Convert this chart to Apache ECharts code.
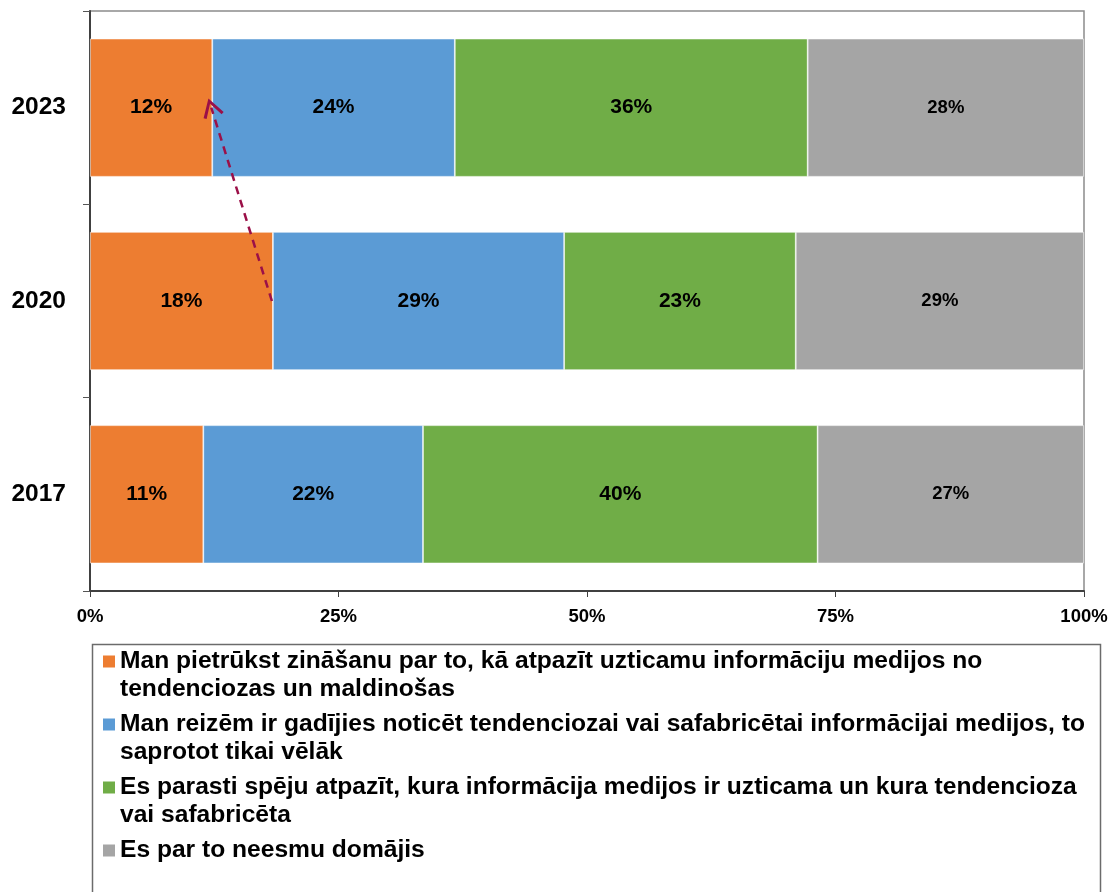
<!DOCTYPE html>
<html>
<head>
<meta charset="utf-8">
<script src="https://cdn.jsdelivr.net/npm/echarts@6/dist/echarts.min.js"></script>
<style>
  html, body { margin: 0; padding: 0; background: #ffffff; }
  #chart { width: 1111px; height: 892px; }
</style>
</head>
<body>
<div id="chart"></div>
<script>
const YEARS = ["2017", "2020", "2023"];

// legend text, split where the original wraps its lines
const LEGEND_LINES = [
  ["Man pietrūkst zināšanu par to, kā atpazīt uzticamu informāciju medijos no", "tendenciozas un maldinošas"],
  ["Man reizēm ir gadījies noticēt tendenciozai vai safabricētai informācijai medijos, to", "saprotot tikai vēlāk"],
  ["Es parasti spēju atpazīt, kura informācija medijos ir uzticama un kura tendencioza", "vai safabricēta"],
  ["Es par to neesmu domājis"],
];
const SERIES_NAMES = LEGEND_LINES.map((lines) => lines.join(" "));

// shares per year, in YEARS order (2017, 2020, 2023)
const LACK_KNOWLEDGE = [11.4, 18.4, 12.3];
const BELIEVED_FAKE = [22.1, 29.3, 24.4];
const CAN_RECOGNISE = [39.7, 23.3, 35.5];
const NOT_THOUGHT = [26.8, 29.0, 27.8];

const X_TICKS = [0, 25, 50, 75, 100];

// arrow from the end of the 2020 orange bar to the end of the 2023 one
const ARROW_FROM = [18.3, "2020"];
const ARROW_TO = [12.2, "2023"];

const COLORS = ["#ED7D31", "#5B9BD5", "#70AD47", "#A5A5A5"];
const FONT = "'Liberation Sans', Arial, sans-serif";

const chart = echarts.init(document.getElementById("chart"), null, { renderer: "canvas" });

function barSeries(index, values, labelSize) {
  return {
    name: SERIES_NAMES[index],
    type: "bar",
    stack: "total",
    data: values,
    barCategoryGap: "28.5%",
    itemStyle: { color: COLORS[index], borderColor: "rgba(255,255,255,0.7)", borderWidth: 0.8 },
    label: {
      show: true,
      position: "inside",
      color: "#000",
      fontFamily: FONT,
      fontWeight: "bold",
      fontSize: labelSize,
      formatter: (p) => Math.round(p.value) + "%",
    },
    emphasis: { disabled: true },
  };
}

const series = [
  barSeries(0, LACK_KNOWLEDGE, 21),
  barSeries(1, BELIEVED_FAKE, 21),
  barSeries(2, CAN_RECOGNISE, 21),
  barSeries(3, NOT_THOUGHT, 18.5),
];

series[0].markLine = {
  silent: true,
  animation: false,
  symbol: ["none", "path://M10,0 L20,16 L17.5,17.5 L10,5 L2.5,17.5 L0,16 Z"],
  symbolSize: [21, 19],
  label: { show: false },
  lineStyle: { color: "#9B1048", type: [8, 6], width: 2.5 },
  data: [[{ coord: ARROW_FROM }, { coord: ARROW_TO }]],
};

// the legend centres each item on its icon; an empty line above (and below a
// one-line item) keeps the icon level with the first line of text
function legendText(name) {
  const lines = LEGEND_LINES[SERIES_NAMES.indexOf(name)];
  const padded = [""].concat(lines);
  if (lines.length === 1) padded.push("");
  return padded.join("\n");
}

const option = {
  backgroundColor: "#ffffff",
  animation: false,
  textStyle: { fontFamily: FONT },
  grid: {
    left: 90,
    right: 27,
    top: 11,
    bottom: 301,
    show: true,
    borderColor: "#8c8c8c",
    borderWidth: 1.5,
    containLabel: false,
  },
  xAxis: {
    type: "value",
    min: 0,
    max: 100,
    interval: 25,
    axisLine: { show: true, lineStyle: { color: "#404040", width: 2 } },
    axisTick: { show: true, length: 6, lineStyle: { color: "#404040" } },
    splitLine: { show: false },
    axisLabel: {
      color: "#000",
      fontFamily: FONT,
      fontWeight: "bold",
      fontSize: 18.5,
      margin: 16,
      showMaxLabel: true,
      showMinLabel: true,
      hideOverlap: false,
      customValues: X_TICKS,
      formatter: "{value}%",
    },
  },
  yAxis: {
    type: "category",
    data: YEARS,
    axisLine: { show: true, lineStyle: { color: "#404040", width: 2 } },
    axisTick: { show: true, length: 7, lineStyle: { color: "#555" } },
    axisLabel: {
      color: "#000",
      fontFamily: FONT,
      fontWeight: "bold",
      fontSize: 24.5,
      margin: 24,
    },
  },
  legend: {
    orient: "vertical",
    left: 103,
    top: 619.5,
    height: 400,
    padding: 0,
    itemGap: -21,
    itemWidth: 12,
    itemHeight: 12,
    icon: "rect",
    itemStyle: { borderWidth: 0 },
    selectedMode: false,
    data: SERIES_NAMES,
    formatter: legendText,
    textStyle: {
      color: "#000",
      fontFamily: FONT,
      fontWeight: "bold",
      fontSize: 24.6,
      lineHeight: 28,
    },
  },
  graphic: [
    {
      type: "rect",
      left: 90,
      top: 642,
      silent: true,
      z: -1,
      shape: { width: 1008, height: 300 },
      style: { fill: "none", stroke: "#6b6b6b", lineWidth: 1.5 },
    },
  ],
  series,
};

chart.setOption(option);
</script>
</body>
</html>
